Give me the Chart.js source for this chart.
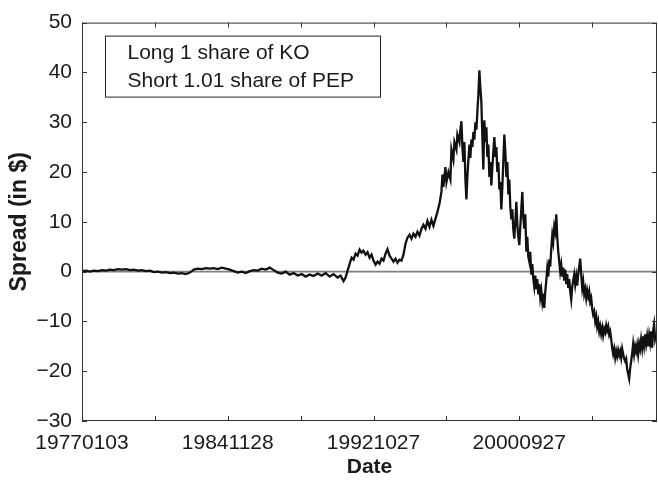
<!DOCTYPE html>
<html>
<head>
<meta charset="utf-8">
<script src="https://cdn.jsdelivr.net/npm/chart.js@4/dist/chart.umd.min.js"></script>
<style>
  body { margin: 0; background: #fff; }
  canvas { display: block; }
</style>
</head>
<body>
<canvas id="spreadChart" width="658" height="485"></canvas>
<script>
// trading day index (0 = 1977-01-03) and KO - 1.01*PEP spread in $
const tradingDay = [
  0, 55, 110, 164, 219, 274, 329, 384, 438, 493, 548, 603, 658, 712, 767, 822, 877, 932, 986, 1041,
  1096, 1151, 1206, 1260, 1315, 1370, 1425, 1480, 1534, 1589, 1644, 1699, 1754, 1808, 1863, 1918, 1973, 2028, 2082, 2137,
  2192, 2247, 2302, 2356, 2411, 2466, 2521, 2576, 2630, 2685, 2740, 2795, 2850, 2904, 2959, 3014, 3069, 3124, 3178, 3233,
  3288, 3343, 3398, 3452, 3507, 3548, 3589, 3617, 3644, 3672, 3699, 3726, 3754, 3781, 3809, 3836, 3863, 3891, 3918, 3946,
  3973, 4000, 4028, 4055, 4083, 4110, 4137, 4165, 4192, 4220, 4247, 4274, 4302, 4329, 4357, 4384, 4411, 4439, 4466, 4494,
  4521, 4548, 4576, 4603, 4631, 4658, 4685, 4713, 4740, 4768, 4795, 4822, 4850, 4877, 4905, 4932, 4946, 4959, 4987, 5001,
  5028, 5055, 5069, 5096, 5110, 5138, 5151, 5179, 5192, 5206, 5220, 5233, 5247, 5261, 5275, 5288, 5302, 5316, 5329, 5343,
  5357, 5370, 5384, 5398, 5412, 5425, 5439, 5453, 5466, 5480, 5494, 5507, 5521, 5535, 5549, 5562, 5576, 5590, 5603, 5617,
  5631, 5644, 5658, 5672, 5686, 5699, 5713, 5727, 5740, 5754, 5768, 5781, 5795, 5809, 5823, 5836, 5850, 5864, 5877, 5891,
  5905, 5918, 5932, 5946, 5960, 5973, 5987, 6001, 6014, 6028, 6042, 6055, 6069, 6083, 6097, 6110, 6124, 6138, 6151, 6165,
  6179, 6192, 6206, 6220, 6234, 6247, 6261, 6275, 6288, 6302, 6316, 6329, 6343, 6357, 6371, 6384, 6398, 6412, 6425, 6439,
  6453, 6466, 6480, 6494, 6508, 6521, 6535, 6549, 6562, 6576, 6590, 6603, 6617, 6631, 6645, 6658, 6672, 6686, 6699, 6713,
  6727, 6740, 6754, 6768, 6782, 6795, 6809, 6823, 6836, 6850, 6864, 6877, 6891, 6905, 6919, 6932, 6946, 6960, 6973, 6987,
  7001, 7014, 7028, 7042, 7056, 7069, 7083, 7097, 7110, 7124, 7138, 7151, 7165, 7179, 7193, 7206, 7220, 7234, 7247, 7261,
  7275, 7288, 7302, 7316, 7330, 7343, 7357, 7371, 7384, 7398, 7412, 7425, 7439, 7453, 7467, 7480, 7494, 7508, 7521, 7535,
  7549, 7562, 7576, 7590, 7604, 7617, 7631, 7645, 7658, 7672, 7686, 7699, 7713, 7727, 7741, 7754, 7768, 7782, 7795, 7809,
  7823, 7836, 7850, 7864, 7878
];
const spread = [
  0.1, 0.2, 0.0, 0.2, 0.1, 0.3, 0.2, 0.4, 0.3, 0.5, 0.4, 0.5, 0.3, 0.4, 0.2, 0.3, 0.1, 0.2, -0.1, 0.0,
  -0.2, -0.1, -0.3, -0.2, -0.4, -0.3, -0.5, -0.2, 0.4, 0.6, 0.5, 0.7, 0.6, 0.7, 0.5, 0.8, 0.6, 0.4, 0.1, -0.2,
  0.0, -0.3, 0.1, 0.3, 0.2, 0.6, 0.4, 0.8, 0.3, -0.2, -0.4, 0.0, -0.6, -0.3, -0.8, -0.5, -1.0, -0.6, -0.9, -0.4,
  -0.8, -0.3, -1.0, -0.5, -1.2, -0.8, -1.9, -1.2, 0.2, 1.5, 2.8, 2.4, 3.6, 3.2, 4.4, 3.8, 4.2, 3.4, 3.9, 2.8,
  3.4, 2.2, 1.4, 2.0, 1.6, 2.6, 2.2, 3.6, 4.5, 3.2, 2.6, 2.0, 2.6, 1.8, 2.4, 2.2, 3.4, 5.6, 6.8, 7.4,
  6.6, 7.6, 7.0, 8.0, 7.2, 8.6, 9.4, 8.6, 10.2, 9.0, 10.4, 9.2, 10.6, 12.0, 13.6, 16.0, 19.5, 17.0, 21.0, 18.0,
  20.0, 18.5, 24.5, 22.5, 26.0, 24.5, 27.5, 26.0, 28.5, 30.2, 25.0, 22.0, 26.0, 18.5, 14.5, 19.0, 22.5, 25.5, 22.8, 26.5,
  25.0, 28.0, 26.5, 30.0, 28.5, 32.0, 35.5, 40.4, 37.0, 34.0, 27.0, 20.5, 30.4, 26.0, 29.0, 23.0, 25.5, 19.0, 22.0, 17.3,
  21.0, 24.0, 27.0, 23.0, 25.0, 20.0, 22.0, 16.5, 18.0, 12.5, 17.0, 22.0, 27.5, 24.0, 19.0, 22.0, 15.5, 18.5, 13.0, 10.5,
  12.5, 8.5, 6.6, 10.0, 14.0, 9.5, 7.0, 5.3, 9.0, 12.5, 16.0, 11.0, 8.6, 11.5, 4.0, 7.0, 3.0, 2.0, 4.0, -0.6,
  1.5, -1.3, -3.0, -0.8, -3.5, -1.5, -4.6, -2.5, -5.2, -3.8, -6.0, -4.4, -7.3, -4.0, -1.8, 0.6, -1.0, 2.4, 1.0, 4.5,
  7.3, 6.0, 9.0, 8.0, 11.5, 7.0, 4.0, 2.0, 0.0, 1.4, -1.0, 0.8, -1.8, 0.4, -2.5, -0.5, -3.3, -1.5, -4.0, -5.6,
  -3.0, -1.8, -0.6, -2.6, -1.0, -2.8, -0.5, 1.0, 2.6, -0.5, -3.3, -2.0, -4.5, -3.5, -5.3, -3.8, -5.0, -4.0, -6.0, -5.3,
  -7.5, -8.6, -8.0, -10.0, -9.0, -11.0, -10.0, -12.0, -11.0, -12.5, -11.3, -12.8, -11.5, -12.2, -10.8, -11.8, -11.0, -12.6, -12.0, -13.5,
  -15.3, -16.5, -15.5, -17.3, -16.0, -17.0, -15.8, -16.8, -16.0, -17.3, -15.5, -16.5, -17.5, -18.0, -17.5, -19.5, -20.5, -21.5, -19.5, -18.0,
  -16.5, -14.6, -16.6, -15.0, -16.0, -14.8, -16.6, -14.5, -15.5, -13.6, -15.3, -13.0, -14.8, -12.6, -14.5, -13.0, -15.0, -12.8, -14.2, -12.0,
  -15.3, -12.0, -10.6, -13.5, -12.5
];
const dateTickDays = [0, 2000, 4000, 6000];
const dateTickLabels = ['19770103', '19841128', '19921027', '20000927'];
const spreadTicks = [-30, -20, -10, 0, 10, 20, 30, 40, 50];
const legendLines = ['Long 1 share of KO', 'Short 1.01 share of PEP'];

const FONT = "'Liberation Sans', Arial, Helvetica, sans-serif";
const dayMax = 7890;

const points = tradingDay.map((d, i) => ({ x: d, y: spread[i] }));

// frame, inward tick marks and the text box
const framePlugin = {
  id: 'frame',
  afterDatasetsDraw(chart) {
    const { ctx, chartArea: a, scales } = chart;
    ctx.save();
    ctx.strokeStyle = '#333';
    ctx.lineWidth = 1;
    ctx.strokeRect(a.left + 0.5, a.top + 0.5, a.right - a.left - 1, a.bottom - a.top - 1);
    ctx.beginPath();
    for (let d = 0; d < dayMax; d += 1000) {
      const x = Math.round(scales.x.getPixelForValue(d)) + 0.5;
      ctx.moveTo(x, a.bottom); ctx.lineTo(x, a.bottom - 5);
      ctx.moveTo(x, a.top); ctx.lineTo(x, a.top + 5);
    }
    spreadTicks.forEach(v => {
      const y = Math.round(scales.y.getPixelForValue(v)) + 0.5;
      ctx.moveTo(a.left, y); ctx.lineTo(a.left + 5, y);
      ctx.moveTo(a.right, y); ctx.lineTo(a.right - 5, y);
    });
    ctx.stroke();

    const bx = a.left + 23.5, by = a.top + 13.5;
    ctx.strokeStyle = '#222';
    ctx.fillStyle = '#fff';
    ctx.fillRect(bx, by, 275, 61);
    ctx.strokeRect(bx, by, 275, 61);
    ctx.fillStyle = '#1a1a1a';
    ctx.font = '21px ' + FONT;
    ctx.textBaseline = 'middle';
    ctx.textAlign = 'left';
    legendLines.forEach((t, i) => ctx.fillText(t, bx + 22, by + 17 + i * 28));
    ctx.restore();
  }
};

new Chart(document.getElementById('spreadChart'), {
  type: 'line',
  data: {
    datasets: [{
      label: 'Spread',
      data: points,
      borderColor: '#111',
      borderWidth: 2.3,
      pointRadius: 0,
      tension: 0
    }, {
      label: 'Zero',
      data: [{ x: 0, y: 0 }, { x: dayMax, y: 0 }],
      borderColor: '#808080',
      borderWidth: 1.6,
      pointRadius: 0
    }]
  },
  options: {
    responsive: false,
    animation: false,
    devicePixelRatio: 1,
    layout: { padding: { top: 19, right: 1, left: 0, bottom: 0 } },
    plugins: {
      legend: { display: false },
      tooltip: { enabled: false }
    },
    scales: {
      x: {
        type: 'linear',
        min: 0,
        max: dayMax,
        grid: { display: false, drawTicks: false },
        border: { display: false },
        afterBuildTicks: s => { s.ticks = [0, 1000, 2000, 3000, 4000, 5000, 6000, 7000].map(v => ({ value: v })); },
        afterFit: s => { s.height = 64; },
        ticks: {
          padding: 10,
          maxRotation: 0,
          autoSkip: false,
          color: '#1a1a1a',
          font: { family: FONT, size: 21 },
          callback: v => {
            const i = dateTickDays.indexOf(v);
            return i >= 0 ? dateTickLabels[i] : '';
          }
        },
        title: {
          display: true,
          text: 'Date',
          color: '#1a1a1a',
          font: { family: FONT, size: 21, weight: 'bold' },
          padding: { top: 0, bottom: 5 }
        }
      },
      y: {
        min: -30,
        max: 50,
        grid: { display: false, drawTicks: false },
        border: { display: false },
        afterBuildTicks: s => { s.ticks = spreadTicks.map(v => ({ value: v })); },
        afterFit: s => { s.width = 82; },
        ticks: {
          padding: 10,
          color: '#1a1a1a',
          font: { family: FONT, size: 21 },
          callback: v => String(v).replace('-', '\u2212')
        },
        title: {
          display: true,
          text: 'Spread (in $)',
          color: '#1a1a1a',
          font: { family: FONT, size: 23, weight: 'bold' },
          padding: { top: 6, bottom: 0 }
        }
      }
    }
  },
  plugins: [framePlugin]
});
</script>
</body>
</html>
